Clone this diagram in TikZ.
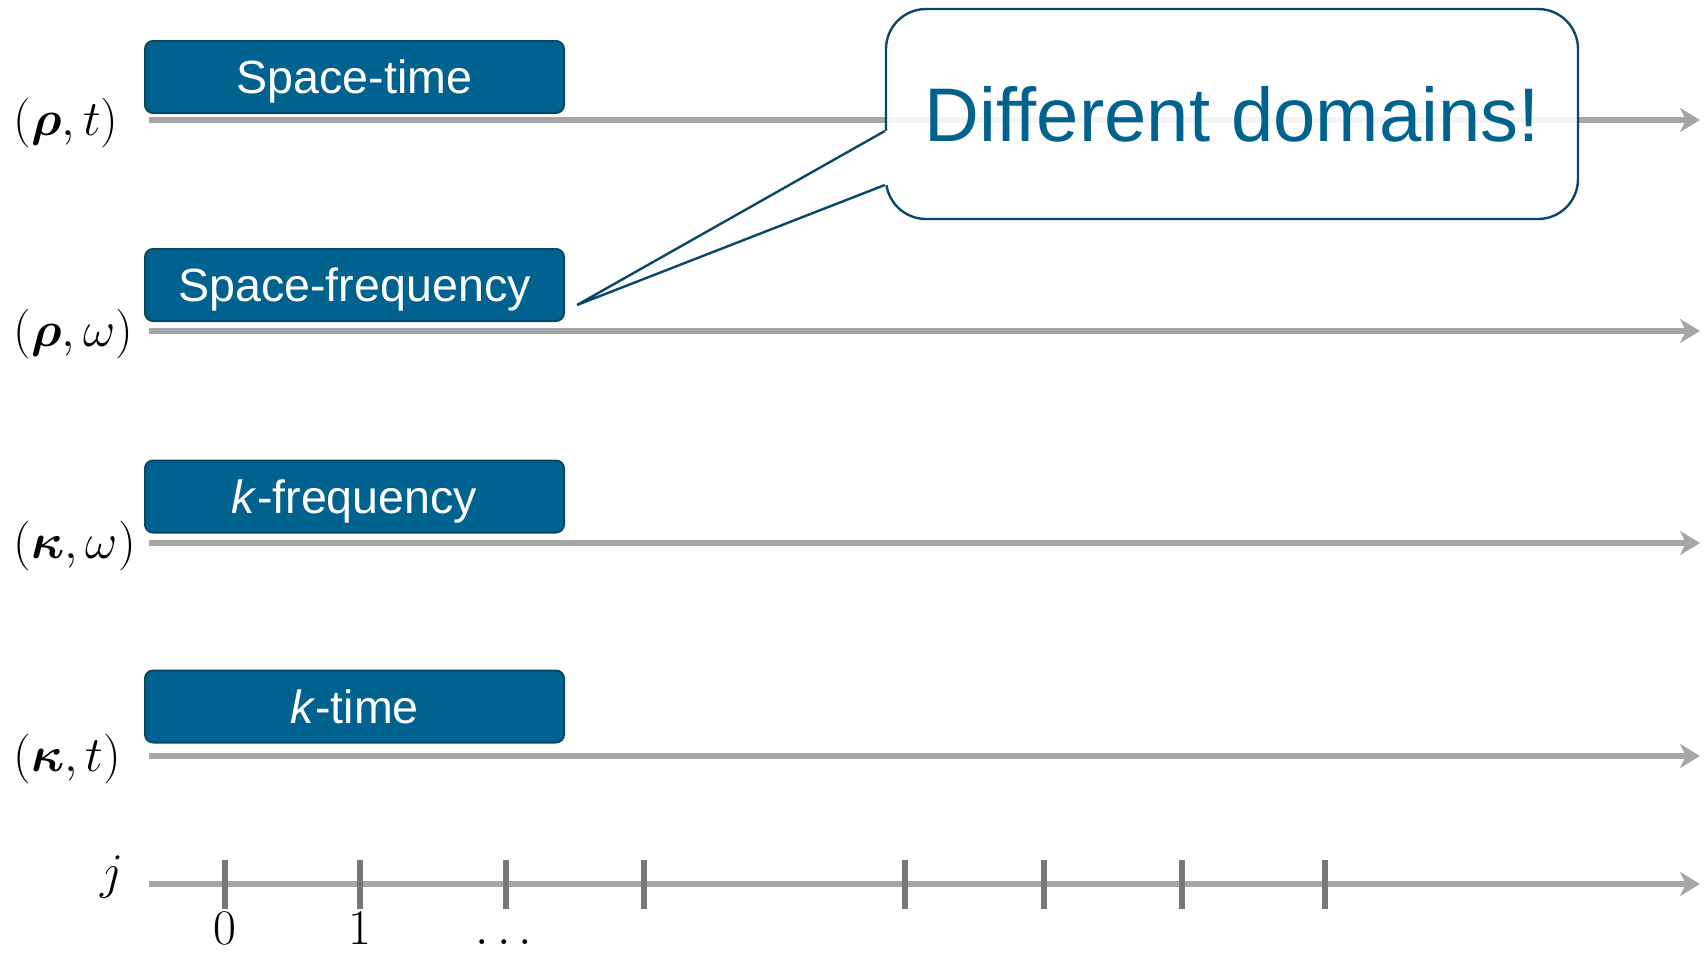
\documentclass[tikz,border=0pt]{standalone}
\usepackage{amsmath}
\usepackage{amssymb}
\usepackage{fontspec}
\usepackage{tikz}
\usetikzlibrary{calc,arrows.meta,positioning}
\newfontfamily\boxfont{Liberation Sans}
\definecolor{boxblue}{RGB}{0,98,142}
\definecolor{boxedge}{RGB}{10,72,105}
\definecolor{axisgray}{RGB}{166,166,166}
\definecolor{tickgray}{RGB}{120,120,120}
\tikzset{
    domain box/.style={draw=boxedge, line width=1pt, fill=boxblue, rounded corners=4pt,
            minimum width=209.5pt, minimum height=36pt, inner sep=0pt, text=white,
            text height=16.5pt, text depth=0pt,
            font=\boxfont\fontsize{23.3}{26}\selectfont},
    domain axis/.style={draw=axisgray, line width=3.4pt,
            -{Stealth[length=10pt,width=12pt,inset=3pt]}},
    tick line/.style={draw=tickgray, line width=3pt},
    axis label/.style={anchor=west, inner sep=0pt, font=\fontsize{24}{28}\selectfont},
    tick label/.style={anchor=base, inner sep=0pt, font=\fontsize{24}{28}\selectfont},
    callout box/.style={draw=boxedge, line width=1.2pt, fill=white, fill opacity=0.88,
            text opacity=1, rounded corners=20pt, minimum width=346pt, minimum height=105pt,
            inner sep=0pt, text=boxblue, font=\boxfont\fontsize{38}{44}\selectfont},
    callout line/.style={draw=boxedge, line width=1.2pt, line join=miter},
}
\begin{document}
\begin{tikzpicture}[x=0.5pt,y=-0.5pt]
    \useasboundingbox (0,0) rectangle (1707,955);
    % axes
    \foreach \nm/\yy in {st/120,sf/331,kf/543,kt/756,j/884}{
        \coordinate (\nm a) at (149,\yy);
        \coordinate (\nm b) at (1700,\yy);
        \draw[domain axis] (\nm a) -- (\nm b);
    }
    \foreach \xx in {225,360,506,644,905,1044,1182,1325}
        \draw[tick line] (\xx,860) -- (\xx,909);
    % labels on the left
    \node[axis label] (st lbl) at (13,123) {$(\boldsymbol{\rho},t)$};
    \node[axis label] (sf lbl) at (13,334) {$(\boldsymbol{\rho},\omega)$};
    \node[axis label] (kf lbl) at (13,546) {$(\boldsymbol{\kappa},\omega)$};
    \node[axis label] (kt lbl) at (13,759) {$(\boldsymbol{\kappa},t)$};
    \node[axis label, anchor=center] (j lbl) at (112,877) {$j$};
    \node[tick label] (t0) at (225,944) {$0$};
    \node[tick label] (t1) at (360,944) {$1$};
    \node[tick label] (tdots) at (508,944) {$\dots$};
    % domain boxes
    \node[domain box] (st box) at (354.5,77) {Space-time};
    \node[domain box] (sf box) at (354.5,285) {Space-frequency};
    \node[domain box] (kf box) at (354.5,496.5) {\textit{k}-frequency};
    \node[domain box] (kt box) at (354.5,706.5) {\textit{k}-time};
    % callout
    \node[callout box] (note) at (1232,114) {Different domains!};
    \coordinate (tip) at (577,305);
    \coordinate (pa) at ([yshift=-8.5pt]note.west);
    \coordinate (pb) at ([yshift=-35.5pt]note.west);
    \fill[white] (pa) -- (tip) -- (pb) -- ([xshift=1.5pt]pb) -- ([xshift=1.5pt]pa) -- cycle;
    \draw[callout line] (pa) -- (tip) -- (pb);
\end{tikzpicture}
\end{document}
